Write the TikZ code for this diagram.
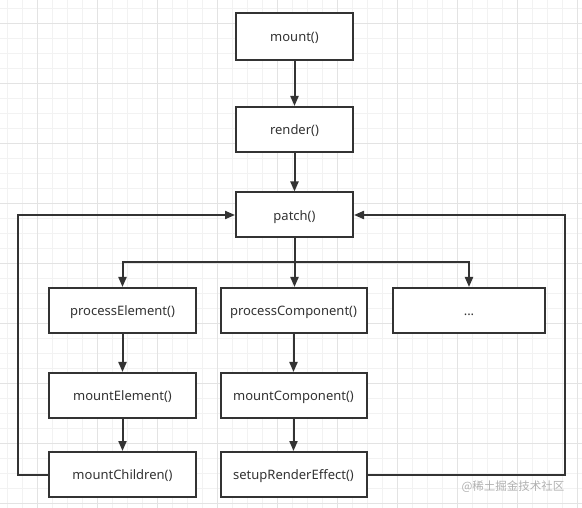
\documentclass[tikz,border=0pt]{standalone}
\usepackage{fontspec}
\setmainfont{Noto Sans}
\newfontfamily\cjkfont{Noto Sans CJK SC}
\usetikzlibrary{arrows.meta}
\definecolor{ink}{HTML}{333333}
\definecolor{txt}{HTML}{333333}
\definecolor{gridminor}{HTML}{F2F2F2}
\definecolor{gridmajor}{HTML}{E3E3E3}
\definecolor{wm}{HTML}{B0B0B0}
\tikzset{
  fbox/.style={draw=ink, line width=2pt, fill=white, rectangle, minimum height=45pt, text=txt, font=\fontsize{13}{15}\selectfont, inner sep=0pt, text height=10.5pt, text depth=0pt},
  col1/.style={fbox, minimum width=147pt},
  col2/.style={fbox, minimum width=146pt},
  colm/.style={fbox, minimum width=117pt},
  conn/.style={draw=ink, line width=2pt},
  arr/.style={conn, -{Triangle[length=10pt,width=8pt]}},
}
\begin{document}
\begin{tikzpicture}[x=1pt,y=-1pt]
\useasboundingbox (0,0) rectangle (582,508);
\fill[white] (0,0) rectangle (582,508);
% grid
\foreach \i in {0,...,38} {
  \draw[gridminor, line width=1pt] (7.7+15*\i,0) -- (7.7+15*\i,508);
}
\foreach \j in {0,...,33} {
  \draw[gridminor, line width=1pt] (0,8.3+15*\j) -- (582,8.3+15*\j);
}
\foreach \i in {-1,...,9} {
  \draw[gridmajor, line width=1pt] (37.7+60*\i,0) -- (37.7+60*\i,508);
}
\foreach \j in {-1,...,8} {
  \draw[gridmajor, line width=1pt] (0,23.3+60*\j) -- (582,23.3+60*\j);
}
% nodes
\node[colm, minimum height=47pt] (mount) at (294.5,36.5) {mount()};
\node[colm] (render) at (294.5,129.5) {render()};
\node[colm] (patch) at (294.5,215) {patch()};
\node[col1] (pe) at (122.5,310.5) {processElement()};
\node[col2] (pc) at (293.5,310.5) {processComponent()};
\node[fbox, minimum width=152pt] (dots) at (469,310.5) {...};
\node[col1] (me) at (122.5,395.5) {mountElement()};
\node[col2] (mco) at (293.5,395.5) {mountComponent()};
\node[col1] (mch) at (122.5,474.5) {mountChildren()};
\node[col2] (sre) at (293.5,474.5) {setupRenderEffect()};
% connectors
\coordinate (br) at (294.5,262.5);
\coordinate (lloop) at (18,474.5);
\coordinate (rloop) at (564.5,474.5);
\draw[arr] (mount) -- (render);
\draw[arr] (render) -- (patch);
\draw[conn] (patch) -- (br);
\draw[arr] (br) -| (pe);
\draw[arr] (br) -| (dots);
\draw[arr] (br) -- (br |- pc.north);
\draw[arr] (pe) -- (me);
\draw[arr] (me) -- (mch);
\draw[arr] (pc) -- (mco);
\draw[arr] (mco) -- (sre);
\draw[arr] (mch.west) -- (lloop) |- (patch.west);
\draw[arr] (sre.east) -- (rloop) |- (patch.east);
% watermark
\node[text=wm, font=\cjkfont\fontsize{11.5}{13}\selectfont, inner sep=0pt] (wmk) at (513,487) {@稀土掘金技术社区};
\end{tikzpicture}
\end{document}
